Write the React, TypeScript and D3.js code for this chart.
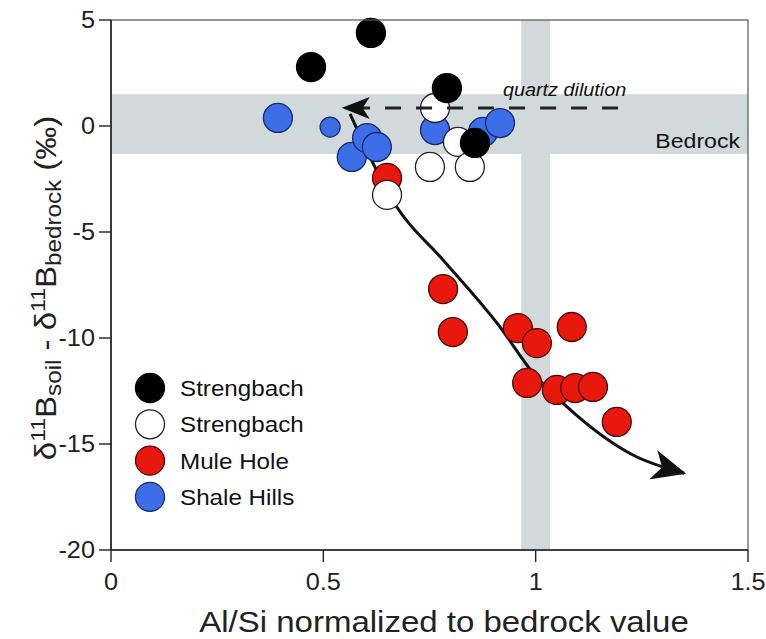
import React from 'react';
import * as d3 from 'd3';

// ---------- data ----------
const xTicks = [0, 0.5, 1, 1.5];
const yTicks = [5, 0, -5, -10, -15, -20];

const strengbachFilled: [number, number][] = [
  [0.471, 2.78], [0.612, 4.39], [0.791, 1.79], [0.857, -0.8],
];
const strengbachOpen: [number, number][] = [
  [0.763, 0.85], [0.817, -0.75], [0.751, -1.93], [0.845, -1.93], [0.65, -3.25],
];
const muleHole: [number, number][] = [
  [0.65, -2.45], [0.782, -7.69], [0.805, -9.72], [0.958, -9.53], [1.003, -10.24],
  [1.085, -9.48], [0.98, -12.12], [1.05, -12.45], [1.093, -12.36], [1.135, -12.31],
  [1.191, -13.96],
];
const shaleHills: [number, number][] = [
  [0.393, 0.38], [0.567, -1.46], [0.603, -0.57], [0.626, -0.99],
  [0.763, -0.19], [0.876, -0.28], [0.916, 0.14],
];
const shaleHillsSmall: [number, number][] = [[0.516, -0.05]];

const bedrockBandY: [number, number] = [-1.32, 1.5];
const bedrockBandX: [number, number] = [0.966, 1.034];

const quartzArrow: [number, number][] = [[1.194, 0.85], [0.548, 0.85]];
const weatheringCurve: [number, number][] = [
  [0.563, 0.57], [0.673, -3.82], [0.782, -6.32], [0.916, -9.48], [0.994, -11.65],
  [1.074, -13.25], [1.229, -15.52], [1.35, -16.38],
];

const legendItems = [
  { label: 'Strengbach', key: 'filled' },
  { label: 'Strengbach', key: 'open' },
  { label: 'Mule Hole', key: 'mule' },
  { label: 'Shale Hills', key: 'shale' },
];

// ---------- styles ----------
const FONT = '"Liberation Sans", Arial, Helvetica, sans-serif';
const BAND = '#d2d9db';
const STY: Record<string, { fill: string; stroke: string }> = {
  filled: { fill: '#000000', stroke: '#000000' },
  open: { fill: '#ffffff', stroke: '#222222' },
  mule: { fill: '#e8180c', stroke: '#4a0a04' },
  shale: { fill: '#3d6ee8', stroke: '#152a70' },
};
const SX = 1.1;

export default function App() {
  const W = 766, H = 639;
  const x = d3.scaleLinear().domain([0, 1.5]).range([111, 748]);
  const y = d3.scaleLinear().domain([-20, 5]).range([550, 20]);
  const R = 14.5;

  const curve = d3.line<[number, number]>()
    .x(d => x(d[0])).y(d => y(d[1]))
    .curve(d3.curveMonotoneX);
  const straight = d3.line<[number, number]>().x(d => x(d[0])).y(d => y(d[1]));

  const T = (props: any) => {
    const { x: tx, y: ty, children, rotate, ...rest } = props;
    const tr = rotate
      ? `translate(${tx},${ty}) rotate(${rotate}) scale(${SX},1)`
      : `translate(${tx},${ty}) scale(${SX},1)`;
    return <text transform={tr} fontFamily={FONT} {...rest}>{children}</text>;
  };

  const dots = (data: [number, number][], key: string, r: number) =>
    data.map((d, i) => (
      <circle key={key + i} cx={x(d[0])} cy={y(d[1])} r={r}
        fill={STY[key].fill} stroke={STY[key].stroke} strokeWidth={1.3} />
    ));

  return (
    <svg width={W} height={H} style={{ position: 'absolute', left: 0, top: 0, background: '#fff' }}>
      <defs>
        <marker id="ahBig" markerUnits="userSpaceOnUse" viewBox="0 0 34 30"
          markerWidth={34} markerHeight={30} refX={32} refY={15} orient="auto">
          <path d="M0,0 L34,15 L0,30 L9,15 Z" fill="#111" />
        </marker>
        <marker id="ahSmall" markerUnits="userSpaceOnUse" viewBox="0 0 28 22"
          markerWidth={28} markerHeight={22} refX={26} refY={11} orient="auto">
          <path d="M0,0 L28,11 L0,22 L7,11 Z" fill="#111" />
        </marker>
      </defs>
      <rect x={0} y={0} width={W} height={H} fill="#fff" />

      {/* bedrock bands */}
      <rect x={x(0) + 1} y={y(bedrockBandY[1])} width={x(1.5) - x(0) - 1}
        height={y(bedrockBandY[0]) - y(bedrockBandY[1])} fill={BAND} />
      <rect x={x(bedrockBandX[0])} y={y(5)} width={x(bedrockBandX[1]) - x(bedrockBandX[0])}
        height={y(-20) - y(5)} fill={BAND} />

      {/* weathering curve */}
      <path d={curve(weatheringCurve) || ''} fill="none" stroke="#111" strokeWidth={3}
        markerEnd="url(#ahBig)" />

      {/* points */}
      {dots(shaleHills, 'shale', R)}
      {dots(shaleHillsSmall, 'shale', 10)}
      {dots(muleHole, 'mule', R)}
      {dots(strengbachOpen, 'open', R)}
      {dots(strengbachFilled, 'filled', R)}

      {/* quartz dilution arrow */}
      <path d={straight(quartzArrow) || ''} fill="none" stroke="#222" strokeWidth={3}
        strokeDasharray="16 15" markerEnd="url(#ahSmall)" />
      <T x={503} y={96} fontSize={18} fontStyle="italic" fill="#111">quartz dilution</T>
      <T x={740} y={148} fontSize={21} textAnchor="end" fill="#111">Bedrock</T>

      {/* frame */}
      <rect x={x(0)} y={y(5)} width={x(1.5) - x(0)} height={y(-20) - y(5)}
        fill="none" stroke="#555" strokeWidth={1.2} />
      <line x1={x(0)} x2={x(0)} y1={y(5)} y2={y(-20)} stroke="#222" strokeWidth={1.6} />
      <line x1={x(0)} x2={x(1.5)} y1={y(-20)} y2={y(-20)} stroke="#222" strokeWidth={1.6} />

      {/* x ticks */}
      {xTicks.map(t => (
        <g key={'xt' + t}>
          <line x1={x(t)} x2={x(t)} y1={y(-20)} y2={y(-20) + 12} stroke="#222" strokeWidth={1.4} />
          <T x={x(t)} y={590} fontSize={23} textAnchor="middle" fill="#222">{String(t)}</T>
        </g>
      ))}
      {/* y ticks */}
      {yTicks.map(t => (
        <g key={'yt' + t}>
          <line x1={x(0) - 12} x2={x(0)} y1={y(t)} y2={y(t)} stroke="#222" strokeWidth={1.4} />
          <T x={95} y={y(t) + 8} fontSize={23} textAnchor="end" fill="#222">{String(t)}</T>
        </g>
      ))}

      {/* axis titles */}
      <T x={444} y={632} fontSize={30} textAnchor="middle" fill="#222">Al/Si normalized to bedrock value</T>
      <T x={56} y={288} rotate={-90} fontSize={30} textAnchor="middle" fill="#222">
        δ<tspan fontSize={21} dy={-11}>11</tspan>
        <tspan dy={11}>B</tspan>
        <tspan fontSize={22} dy={5}>soil</tspan>
        <tspan dy={-5}> - δ</tspan>
        <tspan fontSize={21} dy={-11}>11</tspan>
        <tspan dy={11}>B</tspan>
        <tspan fontSize={22} dy={5}>bedrock</tspan>
        <tspan dy={-5}> (‰)</tspan>
      </T>

      {/* legend */}
      {legendItems.map((it, i) => {
        const cy = 388 + i * 36.3;
        return (
          <g key={'lg' + i}>
            <circle cx={150} cy={cy} r={R} fill={STY[it.key].fill} stroke={STY[it.key].stroke} strokeWidth={1.3} />
            <T x={180} y={cy + 8} fontSize={22} fill="#111">{it.label}</T>
          </g>
        );
      })}
    </svg>
  );
}
